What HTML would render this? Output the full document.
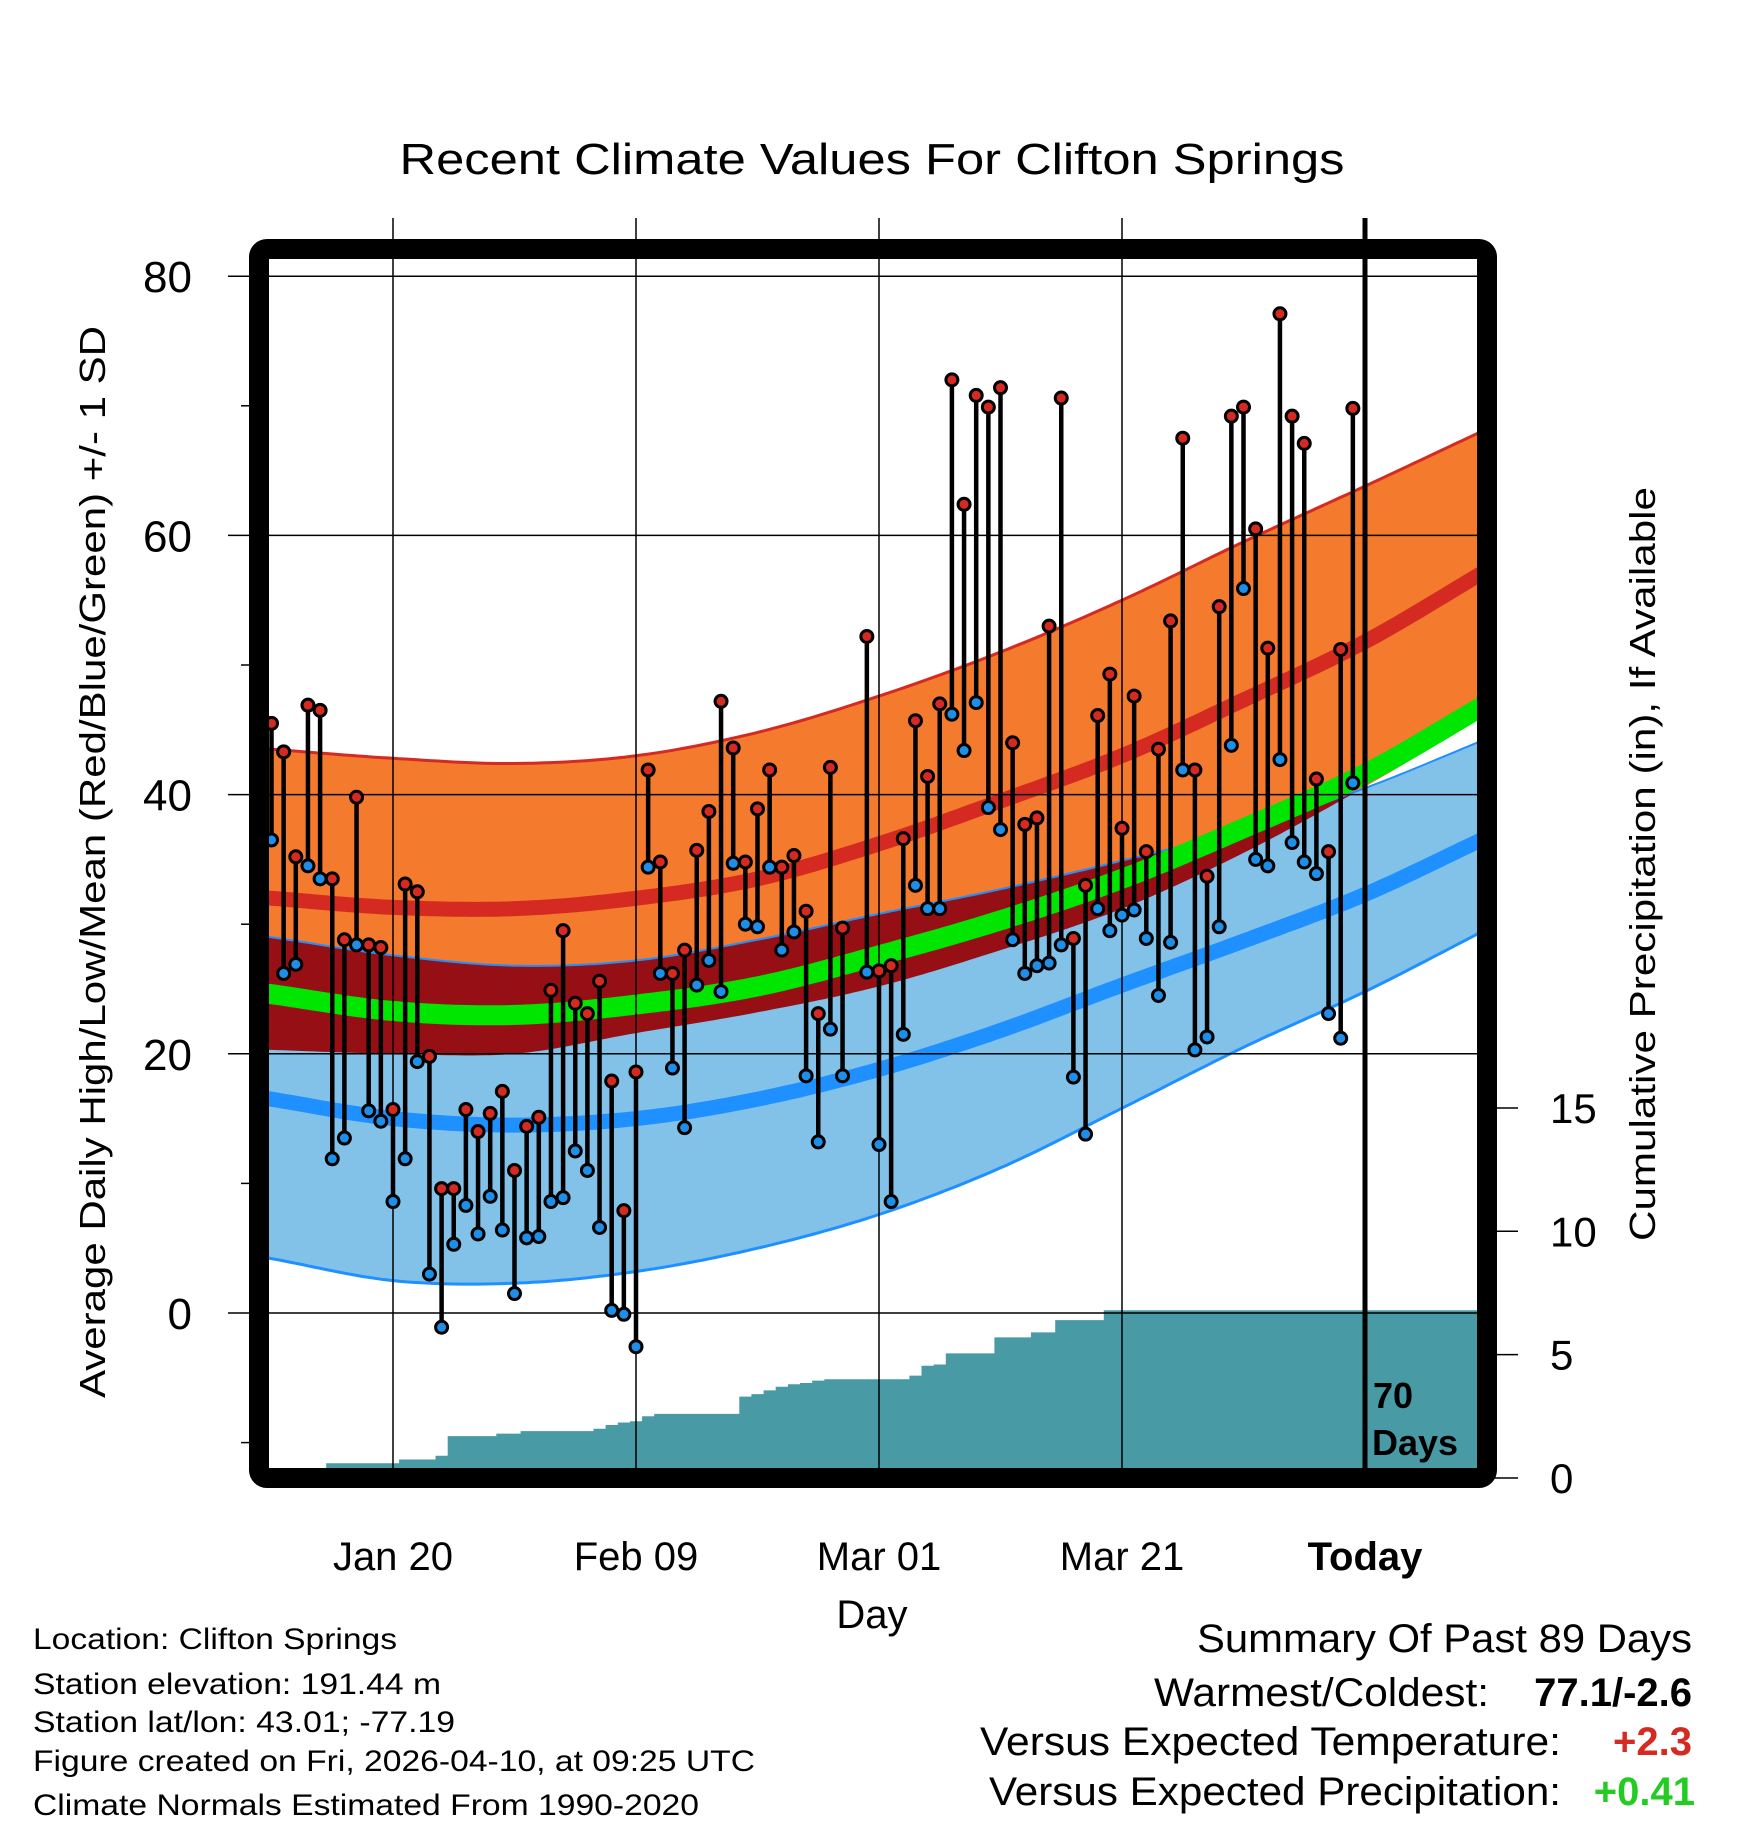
<!DOCTYPE html>
<html><head><meta charset="utf-8"><style>
html,body{margin:0;padding:0;background:#fff}
svg{display:block;font-family:"Liberation Sans",sans-serif}
</style></head><body>
<svg id="chart" width="1748" height="1828" viewBox="0 0 1748 1828" xmlns="http://www.w3.org/2000/svg">
<defs><clipPath id="plotclip"><rect x="269" y="259" width="1209" height="1209"/></clipPath></defs>
<text x="872" y="174" font-size="44" text-anchor="middle" textLength="945" lengthAdjust="spacingAndGlyphs">Recent Climate Values For Clifton Springs</text>
<g id="bands" clip-path="url(#plotclip)"></g>
<g id="precip" clip-path="url(#plotclip)"></g>
<g id="grid"></g>
<g id="marks"></g>
<rect x="259" y="249" width="1228" height="1229" rx="8" fill="none" stroke="#000" stroke-width="20"/>
<g id="axes"></g>
<text transform="translate(105,862) rotate(-90)" font-size="36" text-anchor="middle" textLength="1072" lengthAdjust="spacingAndGlyphs">Average Daily High/Low/Mean (Red/Blue/Green) +/- 1 SD</text>
<text transform="translate(1655,864) rotate(-90)" font-size="36" text-anchor="middle" textLength="754" lengthAdjust="spacingAndGlyphs">Cumulative Precipitation (in), If Available</text>
<text x="872" y="1628" font-size="40" text-anchor="middle">Day</text>
<text x="1373" y="1408" font-size="36" font-weight="bold">70</text>
<text x="1372" y="1455" font-size="36" font-weight="bold">Days</text>
<g font-size="30">
<text x="33" y="1649" textLength="364" lengthAdjust="spacingAndGlyphs">Location: Clifton Springs</text>
<text x="33" y="1694" textLength="408" lengthAdjust="spacingAndGlyphs">Station elevation: 191.44 m</text>
<text x="33" y="1732" textLength="422" lengthAdjust="spacingAndGlyphs">Station lat/lon: 43.01; -77.19</text>
<text x="33" y="1771" textLength="722" lengthAdjust="spacingAndGlyphs">Figure created on Fri, 2026-04-10, at 09:25 UTC</text>
<text x="33" y="1815" textLength="666" lengthAdjust="spacingAndGlyphs">Climate Normals Estimated From 1990-2020</text>
</g>
<g font-size="40" text-anchor="end">
<text x="1692" y="1652" textLength="495" lengthAdjust="spacingAndGlyphs">Summary Of Past 89 Days</text>
<text x="1489" y="1706" textLength="335" lengthAdjust="spacingAndGlyphs">Warmest/Coldest:</text>
<text x="1692" y="1706" font-weight="bold">77.1/-2.6</text>
<text x="1561" y="1755" textLength="581" lengthAdjust="spacingAndGlyphs">Versus Expected Temperature:</text>
<text x="1692" y="1755" font-weight="bold" fill="#d42a22">+2.3</text>
<text x="1561" y="1805" textLength="572" lengthAdjust="spacingAndGlyphs">Versus Expected Precipitation:</text>
<text x="1695" y="1805" font-weight="bold" fill="#22cc22">+0.41</text>
</g>
</svg>
<script>
// ---- data ----
const startDay = -10; // Jan 10 relative to Jan 20
const highs = [45.5,43.3,35.2,46.9,46.5,33.5,28.8,39.8,28.4,28.2,15.7,33.1,32.5,19.8,9.6,9.6,15.7,14.0,15.4,17.1,11.0,14.4,15.1,24.9,29.5,23.9,23.1,25.6,17.9,7.9,18.6,41.9,34.8,26.2,28.0,35.7,38.7,47.2,43.6,34.8,38.9,41.9,34.4,35.3,31.0,23.1,42.1,29.7,null,52.2,26.4,26.8,36.6,45.7,41.4,47.0,72.0,62.4,70.8,69.9,71.4,44.0,37.7,38.2,53.0,70.6,28.9,33.0,46.1,49.3,37.4,47.6,35.6,43.5,53.4,67.5,41.9,33.7,54.5,69.2,69.9,60.5,51.3,77.1,69.2,67.1,41.2,35.6,51.2,69.8];
const lows = [36.5,26.2,26.9,34.5,33.5,11.9,13.5,28.4,15.6,14.8,8.6,11.9,19.4,3.0,-1.1,5.3,8.3,6.1,9.0,6.4,1.5,5.8,5.9,8.6,8.9,12.5,11.0,6.6,0.2,-0.1,-2.6,34.4,26.2,18.9,14.3,25.3,27.2,24.8,34.7,30.0,29.8,34.4,28.0,29.4,18.3,13.2,21.9,18.3,null,26.3,13.0,8.6,21.5,33.0,31.2,31.2,46.2,43.4,47.1,39.0,37.3,28.8,26.2,26.8,27.0,28.4,18.2,13.8,31.2,29.5,30.7,31.1,28.9,24.5,28.6,41.9,20.3,21.3,29.8,43.8,55.9,35.0,34.5,42.7,36.3,34.8,33.9,23.1,21.2,40.9];
const precipCum = [0,0,0,0,0,0.6,0.6,0.6,0.6,0.6,0.6,0.75,0.75,0.75,0.9,1.7,1.7,1.7,1.7,1.8,1.8,1.9,1.9,1.9,1.9,1.9,1.9,2.0,2.15,2.25,2.3,2.5,2.6,2.6,2.6,2.6,2.6,2.6,2.6,3.3,3.4,3.55,3.7,3.8,3.85,3.95,4.0,4.0,4.0,4.0,4.0,4.0,4.0,4.15,4.55,4.6,5.05,5.05,5.05,5.05,5.7,5.7,5.7,5.9,5.9,6.4,6.4,6.4,6.4,6.8,6.8,6.8,6.8,6.8,6.8,6.8,6.8,6.8,6.8,6.8,6.8,6.8,6.8,6.8,6.8,6.8,6.8,6.8,6.8,6.8];
const normDays = [-10,0,10,20,30,40,50,60,70,80,90];
const highTop = [43.5,42.8,42.4,43.0,44.8,47.6,51.0,55.0,59.5,63.8,68.2];
const highMean = [32.0,31.3,31.2,32.0,33.5,36.2,39.5,43.0,47.3,51.8,57.3];
const highBot = [20.3,20.0,20.0,21.6,23.2,25.2,28.0,31.2,35.5,40.6,46.2];
const lowTop = [29.0,27.6,26.8,27.2,28.8,30.8,32.7,34.9,37.3,40.5,44.3];
const lowMean = [16.5,15.0,14.5,15.0,16.5,18.8,21.8,25.3,28.7,32.3,36.7];
const lowBot = [4.2,2.5,2.3,3.2,5.0,7.6,11.2,15.8,20.5,24.8,29.6];
const avgMean = [24.6,23.3,23.0,23.8,25.2,27.6,30.3,33.5,37.4,41.6,47.0];
const yTicks = [0,20,40,60,80];
const yMinor = [-10,10,30,50,70];
const pTicks = [0,5,10,15];
const xTickDays = [0,20,40,60,80];
const xTickLabels = ["Jan 20","Feb 09","Mar 01","Mar 21","Today"];

// ---- scales ----
const X0 = 393, DX = 12.15;
const xOf = d => X0 + d*DX;
const yOf = v => 1313 - v*12.96;
const pOf = p => 1478 - p*24.67;
const NS = "http://www.w3.org/2000/svg";
function mk(tag, parent, attrs){const e=document.createElementNS(NS,tag);for(const k in attrs)e.setAttribute(k,attrs[k]);parent.appendChild(e);return e;}
function interp(arr, d){
  const n=normDays.length;
  let i=0; while(i<n-2 && d>normDays[i+1]) i++;
  const t=(d-normDays[i])/(normDays[i+1]-normDays[i]);
  const p1=arr[i],p2=arr[i+1];
  const p0=i>0?arr[i-1]:2*p1-p2;
  const p3=i+2<n?arr[i+2]:2*p2-p1;
  const t2=t*t,t3=t2*t;
  return 0.5*((2*p1)+(-p0+p2)*t+(2*p0-5*p1+4*p2-p3)*t2+(-p0+3*p1-3*p2+p3)*t3);
}
const fine=[];for(let d=-11;d<=91;d+=0.5)fine.push(d);
function pts(arr){return fine.map(d=>xOf(d).toFixed(1)+","+yOf(interp(arr,d)).toFixed(1));}
function bandPath(top,bot){const a=pts(top),b=pts(bot).reverse();return "M"+a.join("L")+"L"+b.join("L")+"Z";}
function linePath(arr){return "M"+pts(arr).join("L");}
function overlapPath(){
  const a=fine.map(d=>{const hb=interp(highBot,d),lt=interp(lowTop,d);return xOf(d).toFixed(1)+","+yOf(Math.max(lt,hb)).toFixed(1);});
  const b=fine.map(d=>xOf(d).toFixed(1)+","+yOf(interp(highBot,d)).toFixed(1)).reverse();
  return "M"+a.join("L")+"L"+b.join("L")+"Z";
}

const bands=document.getElementById('bands');
let e;
e=mk('path',bands,{d:bandPath(highTop,highBot),fill:'#f47a2e'});


e=mk('path',bands,{d:bandPath(lowTop,lowBot),fill:'#82c1e8'});


e=mk('path',bands,{d:overlapPath(),fill:'#960f14'});


e=mk('path',bands,{d:linePath(highTop),fill:'none',stroke:'#d42a22','stroke-width':3});


e=mk('path',bands,{d:linePath(lowTop),fill:'none',stroke:'#1e90ff','stroke-width':2});


e=mk('path',bands,{d:linePath(lowBot),fill:'none',stroke:'#1e90ff','stroke-width':3});


e=mk('path',bands,{d:linePath(highMean),fill:'none',stroke:'#d42a22','stroke-width':15});


e=mk('path',bands,{d:linePath(lowMean),fill:'none',stroke:'#1e90ff','stroke-width':15});


e=mk('path',bands,{d:linePath(avgMean),fill:'none',stroke:'#00e600','stroke-width':20});



// precip step area
const pg=document.getElementById('precip');
let pd="M"+xOf(startDay-0.5)+","+pOf(0);
precipCum.forEach((p,i)=>{const d=startDay+i;pd+="L"+xOf(d-0.5).toFixed(1)+","+pOf(p).toFixed(1)+"L"+xOf(d+0.5).toFixed(1)+","+pOf(p).toFixed(1);});
pd+="L1480,"+pOf(precipCum[precipCum.length-1]).toFixed(1)+"L1480,"+pOf(0)+"Z";
e=mk('path',pg,{d:pd,fill:'#489aa4'});



// grid
const g=document.getElementById('grid');
yTicks.forEach(v=>{
  e=mk('line',g,{x1:228,x2:1478,y1:yOf(v),y2:yOf(v),stroke:'#000','stroke-width':1.5});
  
  
});
yMinor.forEach(v=>{
  e=mk('line',g,{x1:241,x2:255,y1:yOf(v),y2:yOf(v),stroke:'#000','stroke-width':1.5});
  
  
});
xTickDays.forEach((d,i)=>{
  const today = i===xTickDays.length-1;
  e=mk('line',g,{x1:xOf(d),x2:xOf(d),y1:218,y2:1468,stroke:'#000','stroke-width':today?5:1.5});
  
  
});

// marks
const m=document.getElementById('marks');
highs.forEach((h,i)=>{
  const l=lows[i]; if(h==null||l==null)return;
  const x=xOf(startDay+i);
  e=mk('line',m,{x1:x,x2:x,y1:yOf(h),y2:yOf(l),stroke:'#000','stroke-width':4.5});
  
  
});
highs.forEach((h,i)=>{
  const l=lows[i]; if(h==null||l==null)return;
  const x=xOf(startDay+i);
  e=mk('circle',m,{cx:x,cy:yOf(l),r:6,fill:'#1e8fe8',stroke:'#000','stroke-width':3});
  
  
  e=mk('circle',m,{cx:x,cy:yOf(h),r:6,fill:'#d42a22',stroke:'#000','stroke-width':3});
  
  
});

// axes labels
const ax=document.getElementById('axes');
yTicks.forEach(v=>{
  e=mk('text',ax,{x:192,y:yOf(v)+16,'font-size':44,'text-anchor':'end'});
  e.textContent=v;
  
  
});
pTicks.forEach(p=>{
  e=mk('line',ax,{x1:1490,x2:1518,y1:pOf(p),y2:pOf(p),stroke:'#000','stroke-width':1.5});
  
  
  e=mk('text',ax,{x:1550,y:pOf(p)+15,'font-size':42});
  e.textContent=p;
  
  
});
xTickDays.forEach((d,i)=>{
  e=mk('text',ax,{x:xOf(d),y:1570,'font-size':40,'text-anchor':'middle','font-weight':i===xTickDays.length-1?'bold':'normal'});
  e.textContent=xTickLabels[i];
  
  
});
</script>
</body></html>
